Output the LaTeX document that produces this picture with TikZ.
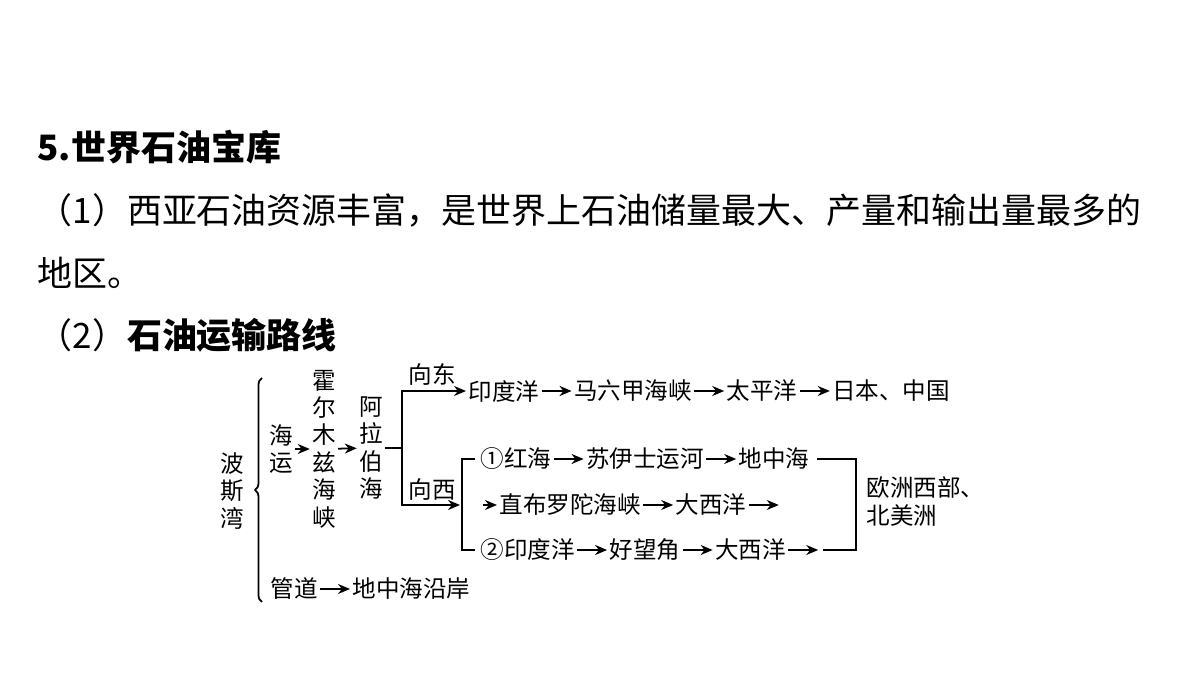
\documentclass[tikz,border=0pt]{standalone}
\usepackage{fontspec}
\setmainfont{Noto Sans CJK SC}
\usetikzlibrary{positioning, arrows.meta, decorations.pathreplacing}
\newcommand{\bigtxt}{\fontsize{9.95pt}{12pt}\selectfont}
\newcommand{\dtxt}{\fontsize{6.7pt}{7.8pt}\selectfont}

\begin{document}
\begin{tikzpicture}[
			node distance=3mm,
			head_text/.style={
				anchor=west,
				inner sep=0pt,
				font=\bigtxt
			},
			place/.style={
				inner sep=0.5pt,
				font=\dtxt
			},
			vplace/.style={
				inner sep=0.5pt,
				font=\dtxt,
				align=center
			},
			go/.style={
				-{Stealth[length=1.2mm,width=1mm]},
				line width=0.5pt
			},
			line/.style={
				line width=0.5pt
			}
			]
			\useasboundingbox (0,0) rectangle (12,6.75);
			
			% Headings
			
			\node [head_text] (T0) at (0.37,5.28) {\bfseries 5.世界石油宝库};
			\node [head_text] (T1) at (0.37,4.65) {（1）西亚石油资源丰富，是世界上石油储量最大、产量和输出量最多的};
			\node [head_text] (T2) at (0.37,4.02) {地区。};
			\node [head_text] (T3) at (0.37,3.40) {（2）\bfseries 石油运输路线};
			
			% Sea route
			
			\node [vplace] (bosi) at (2.32,1.84) {波\\斯\\湾};
			\node [vplace] (haiyun) at (2.81,2.26) {海\\运};
			\node [vplace] (hormuz) at (3.24,2.26) {霍\\尔\\木\\兹\\海\\峡};
			\node [vplace] (arab) at (3.71,2.27) {阿\\拉\\伯\\海};
			\coordinate (fork) at (4.02,2.27);
			
			\draw [decorate, decoration={brace, mirror, amplitude=0.7mm}, line width=0.5pt]
			(2.62,2.97) -- (2.62,0.73);
			
			\draw [go] (haiyun) -- (hormuz);
			\draw [go] (hormuz) -- (arab);
			\draw [line] (arab) -- (fork);
			
			% East
			
			\node [place, anchor=west] (E1) at (4.66,2.84) {印度洋};
			\node [place, right=of E1] (E2) {马六甲海峡};
			\node [place, right=of E2] (E3) {太平洋};
			\node [place, right=of E3] (E4) {日本、中国};
			\node [place] (east) at (4.32,3.01) {向东};
			
			\draw [go] (fork) |- (E1);
			\draw [go] (E1) -- (E2);
			\draw [go] (E2) -- (E3);
			\draw [go] (E3) -- (E4);
			
			% West
			
			\coordinate (wfork) at (4.60,1.70);
			\node [place] (west) at (4.32,1.85) {向西};
			\draw [go] (fork) |- (wfork);
			\draw [line] (4.75,2.16) -| (4.62,1.25) -- (4.75,1.25);
			
			\node [place, anchor=west] (A1) at (4.78,2.16) {①红海};
			\node [place, right=of A1] (A2) {苏伊士运河};
			\node [place, right=of A2] (A3) {地中海};
			
			\coordinate (B0) at (4.83,1.70);
			\node [place, anchor=west] (B1) at (4.97,1.70) {直布罗陀海峡};
			\node [place, right=of B1] (B2) {大西洋};
			\coordinate [right=of B2] (B3);
			
			\node [place, anchor=west] (C1) at (4.78,1.25) {②印度洋};
			\node [place, right=of C1] (C2) {好望角};
			\node [place, right=of C2] (C3) {大西洋};
			\coordinate [right=of C3] (C4);
			
			\draw [go] (A1) -- (A2);
			\draw [go] (A2) -- (A3);
			\draw [go] (B0) -- (B1);
			\draw [go] (B1) -- (B2);
			\draw [go] (B2) -- (B3);
			\draw [go] (C1) -- (C2);
			\draw [go] (C2) -- (C3);
			\draw [go] (C3) -- (C4);
			
			\node [place, anchor=west, align=left] (europe) at (8.64,1.735) {欧洲西部、\\北美洲};
			\draw [line] (A3.east) ++(0.05,0) -| (8.56,1.25) -- ([xshift=0.05cm]C4);
			
			% Pipeline
			
			\node [place, anchor=west] (P1) at (2.68,0.86) {管道};
			\node [place, anchor=west] (P2) at (3.50,0.86) {地中海沿岸};
			\draw [go] (P1) -- (P2);
			
		\end{tikzpicture}
\end{document}
